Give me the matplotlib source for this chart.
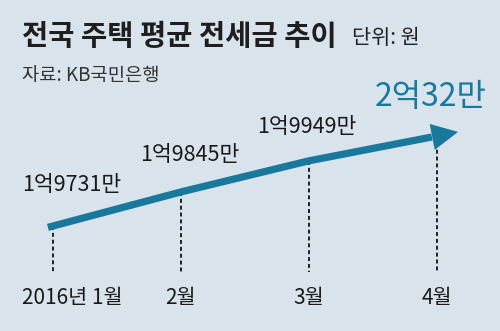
import matplotlib
matplotlib.use("Agg")
import matplotlib.pyplot as plt

plt.rcParams['font.family'] = ['Noto Sans CJK KR', 'DejaVu Sans']

months = ["2016년 1월", "2월", "3월", "4월"]
values = [19731, 19845, 19949, 20032]  # 만원
value_labels = ["1억9731만", "1억9845만", "1억9949만", "2억32만"]

title = "전국 주택 평균 전세금 추이"
unit = "단위: 원"
source = "자료: KB국민은행"

bg = "#d9e3ec"
blue = "#18799c"

W, H = 500, 331
fig = plt.figure(figsize=(W / 100, H / 100), dpi=100, facecolor=bg)
ax = fig.add_axes([0, 0, 1, 1])
ax.set_facecolor(bg)
ax.axis('off')

px_per_x = 128.0
x0px = 53.0
ax.set_xlim(-x0px / px_per_x, (W - x0px) / px_per_x)
ppu = 0.299
v_top = values[0] + 226 / ppu
v_bot = values[0] - (H - 226) / ppu
ax.set_ylim(v_bot, v_top)

xs = list(range(len(values)))
bottom_v = values[0] - (272 - 226) / ppu

# dashed guide lines
for x, v in zip(xs, values):
    ax.plot([x, x], [v, bottom_v], color="#111111", lw=1.3,
            linestyle=(0, (2.2, 1.6)), zorder=1)

# shaft
ext_left = -0.04
slope0 = values[1] - values[0]
start_v = values[0] + slope0 * ext_left
slope3 = values[3] - values[2]
head_base_x = 2.96
hb_v = values[2] + slope3 * (head_base_x - 2)
ax.plot([ext_left] + xs[:3] + [head_base_x], [start_v] + values[:3] + [hb_v],
        color=blue, lw=5.2, solid_capstyle='butt', solid_joinstyle='round', zorder=3)

tip_x = 3.165
tip_v = values[2] + slope3 * (tip_x - 2)
ax.annotate("", xy=(tip_x, tip_v), xytext=(2.90, values[2] + slope3 * 0.90),
            arrowprops=dict(arrowstyle="-|>,head_length=1.9,head_width=0.95",
                            color=blue, lw=0, shrinkA=0, shrinkB=0,
                            mutation_scale=10), zorder=4)

def px2data(px, py):
    return ax.transData.inverted().transform(fig.transFigure.transform((px / W, 1 - py / H)))

label_pos = [(22, 185), (140, 155), (257, 127)]
for (px, py), t in zip(label_pos, value_labels[:3]):
    dx, dy = px2data(px, py)
    ax.text(dx, dy, t, fontsize=15.5, color="#1a1a1a", ha='left', va='center')
dx, dy = px2data(375, 97)
ax.text(dx, dy, value_labels[3], fontsize=23, color=blue, ha='left', va='center')

for x, m in zip(xs, months):
    if x == 0:
        dx, dy = px2data(22, 298)
        ax.text(dx, dy, m, fontsize=15, color="#1a1a1a", ha='left', va='center')
    else:
        ax.text(x, px2data(0, 298)[1], m, fontsize=15, color="#1a1a1a", ha='center', va='center')

fig.text(22 / W, 1 - 37 / H, title, fontsize=20.5, fontweight='bold', color="#1e1e1e",
         ha='left', va='center')
fig.text(352 / W, 1 - 38 / H, unit, fontsize=15, color="#222222", ha='left', va='center')
fig.text(22 / W, 1 - 75 / H, source, fontsize=13.5, color="#333333", ha='left', va='center')

fig.savefig("out.png", dpi=100, facecolor=bg)
